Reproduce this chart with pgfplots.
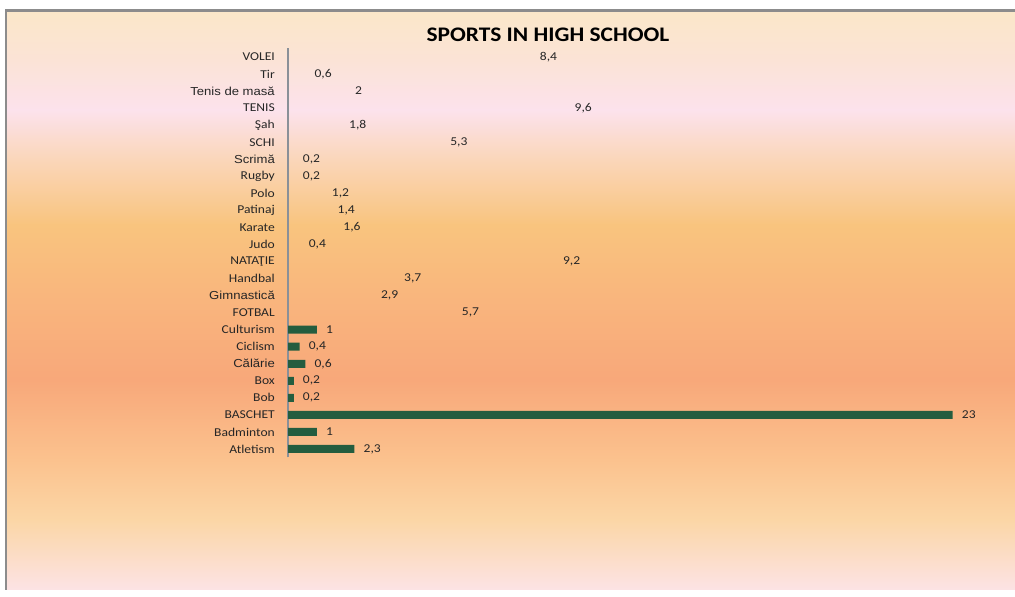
\documentclass[border=0pt]{standalone}
\usepackage{pgfplots}
\pgfplotsset{compat=1.18}
\usepackage{fontspec}
\setmainfont{Carlito}[FakeStretch=1.13]
\newfontfamily\arialf{Liberation Sans}[FakeStretch=1.13]
\newcommand\ar[1]{{\arialf\fontsize{11.6}{13}\selectfont #1}}
\definecolor{ca}{HTML}{FBE7C9}
\definecolor{cb}{HTML}{FBE3D6}
\definecolor{cc}{HTML}{FCE2EC}
\definecolor{cd}{HTML}{FAD6B9}
\definecolor{ce}{HTML}{F9C47E}
\definecolor{cf}{HTML}{F9B57D}
\definecolor{cg}{HTML}{F8A87A}
\definecolor{ch}{HTML}{FBC28E}
\definecolor{ci}{HTML}{FBD6A6}
\definecolor{cj}{HTML}{FCE3E5}
\definecolor{barg}{HTML}{245D3F}
\definecolor{frame}{HTML}{8C8C8C}
\definecolor{axisg}{HTML}{8A9098}
\begin{document}
\begin{tikzpicture}[x=1pt,y=1pt]
\fill[white] (0,0) rectangle (1015,597);
% background gradient (pixel y -> 597-y)
\shade[top color=ca,bottom color=cb] (7,585) rectangle (1015,537);
\shade[top color=cb,bottom color=cc] (7,537) rectangle (1015,487);
\shade[top color=cc,bottom color=cd] (7,487) rectangle (1015,437);
\shade[top color=cd,bottom color=ce] (7,437) rectangle (1015,372);
\shade[top color=ce,bottom color=cf] (7,372) rectangle (1015,297);
\shade[top color=cf,bottom color=cg] (7,297) rectangle (1015,217);
\shade[top color=cg,bottom color=ch] (7,217) rectangle (1015,137);
\shade[top color=ch,bottom color=ci] (7,137) rectangle (1015,77);
\shade[top color=ci,bottom color=cj] (7,77) rectangle (1015,7);
\draw[frame, line width=2.5pt] (6,7) -- (6,586.5) -- (1016,586.5);
\node[font=\bfseries\fontsize{20.7}{24}\selectfont] at (548,562) {SPORTS IN HIGH SCHOOL};
\begin{axis}[
  at={(288pt,139.5pt)}, anchor=south west,
  scale only axis, width=722.5pt, height=409pt,
  xbar, bar width=8pt, bar shift=0pt,
  xmin=0, xmax=25, ymin=-0.5, ymax=23.5,
  axis x line=none,
  axis y line=left,
  y axis line style={-, draw=axisg, line width=1.6pt},
  major tick length=0pt,
  ytick={0,...,23},
  yticklabels={Atletism, Badminton, BASCHET, Bob, Box, \ar{Călărie}, Ciclism, Culturism, FOTBAL, \ar{Gimnastică}, Handbal, NATAŢIE, Judo, Karate, Patinaj, Polo, Rugby, \ar{Scrimă}, SCHI, Şah, TENIS, \ar{Tenis de masă}, Tir, VOLEI},
  y tick label style={font=\fontsize{12}{14}\selectfont, text=black!85, anchor=east, inner sep=0pt, xshift=-13pt},
  nodes near coords,
  nodes near coords style={font=\fontsize{12}{14}\selectfont, text=black!85, anchor=west, inner sep=0pt, xshift=9pt},
  /pgf/number format/use comma,
  /pgf/number format/assume math mode=true,
  clip=false,
]
\addplot[fill=barg, draw=none] coordinates {(2.3,0) (1,1) (23,2) (0.2,3) (0.2,4) (0.6,5) (0.4,6) (1,7)};
\addplot[fill=none, draw=none] coordinates {(5.7,8) (2.9,9) (3.7,10) (9.2,11) (0.4,12) (1.6,13) (1.4,14) (1.2,15) (0.2,16) (0.2,17) (5.3,18) (1.8,19) (9.6,20) (2,21) (0.6,22) (8.4,23)};
\end{axis}
\pgfresetboundingbox
\useasboundingbox (0,0) rectangle (1015,597);
\end{tikzpicture}
\end{document}
